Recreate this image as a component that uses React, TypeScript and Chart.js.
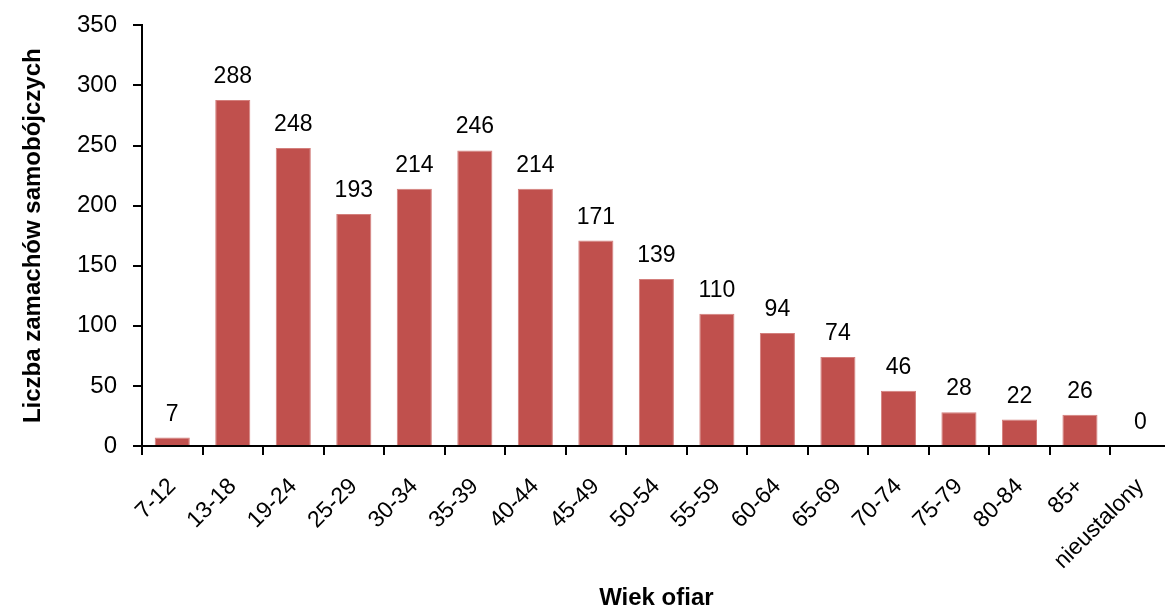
import React, { useEffect, useRef } from "react";
import { Chart, registerables } from "chart.js";

Chart.register(...registerables);

const categories = ["7-12","13-18","19-24","25-29","30-34","35-39","40-44","45-49","50-54","55-59","60-64","65-69","70-74","75-79","80-84","85+","nieustalony"];
const values = [7,288,248,193,214,246,214,171,139,110,94,74,46,28,22,26,0];
const yTicksMax = 350;
const yStep = 50;
const xTitle = "Wiek ofiar";
const yTitle = "Liczba zamachów samobójczych";

const FONT = "'Liberation Sans', Arial, sans-serif";

const labelPlugin = {
  id: "valueLabels",
  afterDatasetsDraw(chart: any) {
    const ctx = chart.ctx;
    const meta = chart.getDatasetMeta(0);
    ctx.save();
    ctx.font = `23px ${FONT}`;
    ctx.fillStyle = "#000";
    ctx.textAlign = "center";
    ctx.textBaseline = "alphabetic";
    meta.data.forEach((bar: any, i: number) => {
      ctx.fillText(String(values[i]), bar.x, bar.y - 17);
    });
    ctx.restore();
  },
};

export default function App() {
  const ref = useRef<HTMLCanvasElement>(null);
  useEffect(() => {
    document.body.style.margin = "0";
    const chart = new Chart(ref.current!, {
      type: "bar",
      data: {
        labels: categories,
        datasets: [
          {
            data: values,
            backgroundColor: "#C0504D",
            borderColor: "#D37F7C",
            borderWidth: 1,
            categoryPercentage: 1,
            barPercentage: 0.58,
          },
        ],
      },
      options: {
        animation: false,
        responsive: false,
        layout: { padding: { top: 20, left: 0, right: 0, bottom: 0 } },
        plugins: { legend: { display: false }, tooltip: { enabled: false } },
        scales: {
          x: {
            grid: { display: true, drawOnChartArea: false, drawTicks: true, tickLength: 9, offset: true, color: "#000", lineWidth: 2 },
            border: { display: true, color: "#000", width: 2 },
            ticks: { color: "#000", font: { family: FONT, size: 23 }, minRotation: 45, maxRotation: 45, autoSkip: false, padding: 18 },
            title: { display: true, text: xTitle, color: "#000", font: { family: FONT, size: 24, weight: "bold", lineHeight: 1.0 }, padding: { top: 10, bottom: 0 } },
            afterFit: (s: any) => { s.height = 164; },
          },
          y: {
            min: 0,
            max: yTicksMax,
            grid: { display: true, drawOnChartArea: false, drawTicks: true, tickLength: 9, color: "#000", lineWidth: 2 },
            border: { display: true, color: "#000", width: 2 },
            ticks: { stepSize: yStep, color: "#000", font: { family: FONT, size: 24 }, padding: 16 },
            title: { display: true, text: yTitle, color: "#000", font: { family: FONT, size: 24, weight: "bold" }, padding: { top: 19, bottom: 8 } },
            afterFit: (s: any) => { s.width = 142; },
          },
        },
      },
      plugins: [labelPlugin],
    });
    return () => chart.destroy();
  }, []);
  return (
    <div style={{ position: "fixed", left: 0, top: 0, width: 1165, height: 610, overflow: "hidden", background: "#fff" }}>
      <canvas ref={ref} width={1178} height={615} style={{ display: "block", marginTop: -5 }} />
    </div>
  );
}
